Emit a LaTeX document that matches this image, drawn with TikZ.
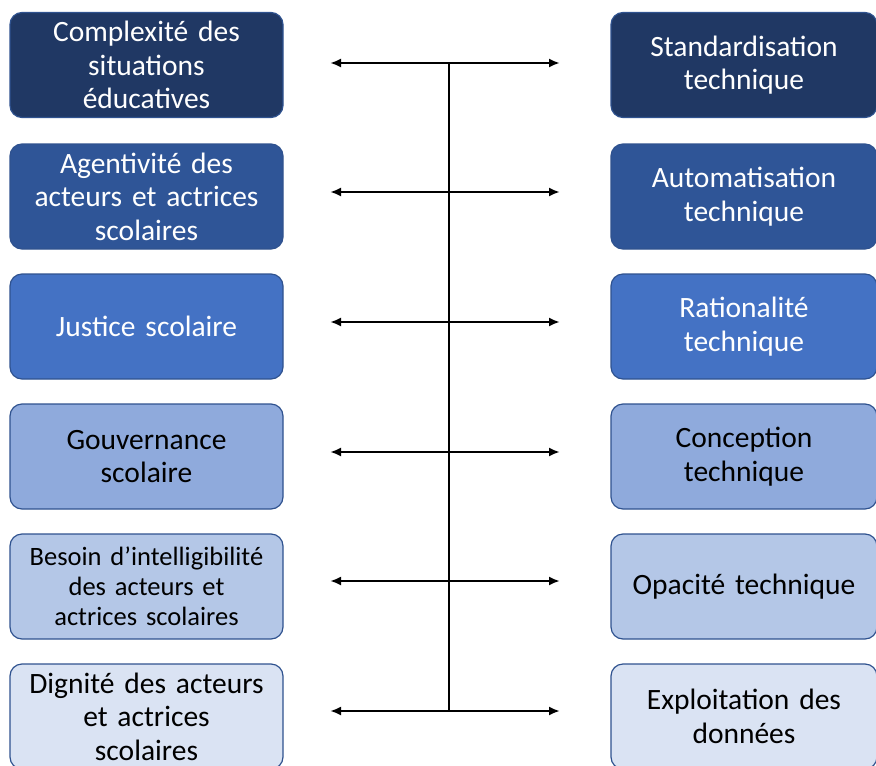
\documentclass[tikz,border=0pt]{standalone}
\usepackage{fontspec}
\setmainfont[WordSpace=0.85]{Carlito}
\usepackage{tikz}
\usetikzlibrary{positioning}
\usetikzlibrary{arrows.meta}
\definecolor{bleuA}{HTML}{203864}
\definecolor{bleuB}{HTML}{2F5597}
\definecolor{bleuC}{HTML}{4472C4}
\definecolor{bleuD}{HTML}{8FAADC}
\definecolor{bleuE}{HTML}{B4C7E7}
\definecolor{bleuF}{HTML}{DAE3F3}
\definecolor{bord}{HTML}{2F528F}
\tikzset{boite/.style={draw=bord, line width=1.2pt, rounded corners=12pt,
  minimum width=273pt, minimum height=105pt, inner sep=0pt,
  text width=268pt, align=center, font=\fontsize{29.5}{33.5}\selectfont}}
\tikzset{droite/.style={boite, minimum width=266pt, text width=262pt}}
\tikzset{petit/.style={font=\fontsize{26.5}{30}\selectfont}}

\begin{document}
\begin{tikzpicture}[x=1pt,y=-1pt,>={Latex[length=11pt,width=9pt]}]
\useasboundingbox (0,0) rectangle (876,766);
% colonne de gauche
\node[boite, fill=bleuA, text=white] (g1) at (146.5,65) {Complexité des\\situations\\éducatives};
\node[boite, fill=bleuB, text=white] (g2) at (146.5,196.5) {Agentivité des\\acteurs et actrices\\scolaires};
\node[boite, fill=bleuC, text=white] (g3) at (146.5,326.5) {Justice scolaire};
\node[boite, fill=bleuD] (g4) at (146.5,456.5) {Gouvernance\\scolaire};
\node[boite, fill=bleuE, petit] (g5) at (146.5,586.5) {Besoin d’intelligibilité\\des acteurs et\\actrices scolaires};
\node[boite, fill=bleuF] (g6) at (146.5,716.5) {Dignité des acteurs\\et actrices\\scolaires};
% colonne de droite
\node[droite, fill=bleuA, text=white] (d1) at (744,65) {Standardisation\\technique};
\node[droite, fill=bleuB, text=white] (d2) at (744,196.5) {Automatisation\\technique};
\node[droite, fill=bleuC, text=white] (d3) at (744,326.5) {Rationalité\\technique};
\node[droite, fill=bleuD] (d4) at (744,456.5) {Conception\\technique};
\node[droite, fill=bleuE] (d5) at (744,586.5) {Opacité technique};
\node[droite, fill=bleuF] (d6) at (744,716.5) {Exploitation des\\données};
% fleches
\foreach \y [count=\i] in {63,192,322,452,581,711} {
  \coordinate (a\i) at (330,\y);
  \coordinate (b\i) at (560,\y);
  \coordinate (m\i) at (449,\y);
  \draw[<->, line width=2.2pt] (a\i) -- (b\i);
}
\draw[line width=2.2pt] (m1) -- (m6);
\end{tikzpicture}
\end{document}
